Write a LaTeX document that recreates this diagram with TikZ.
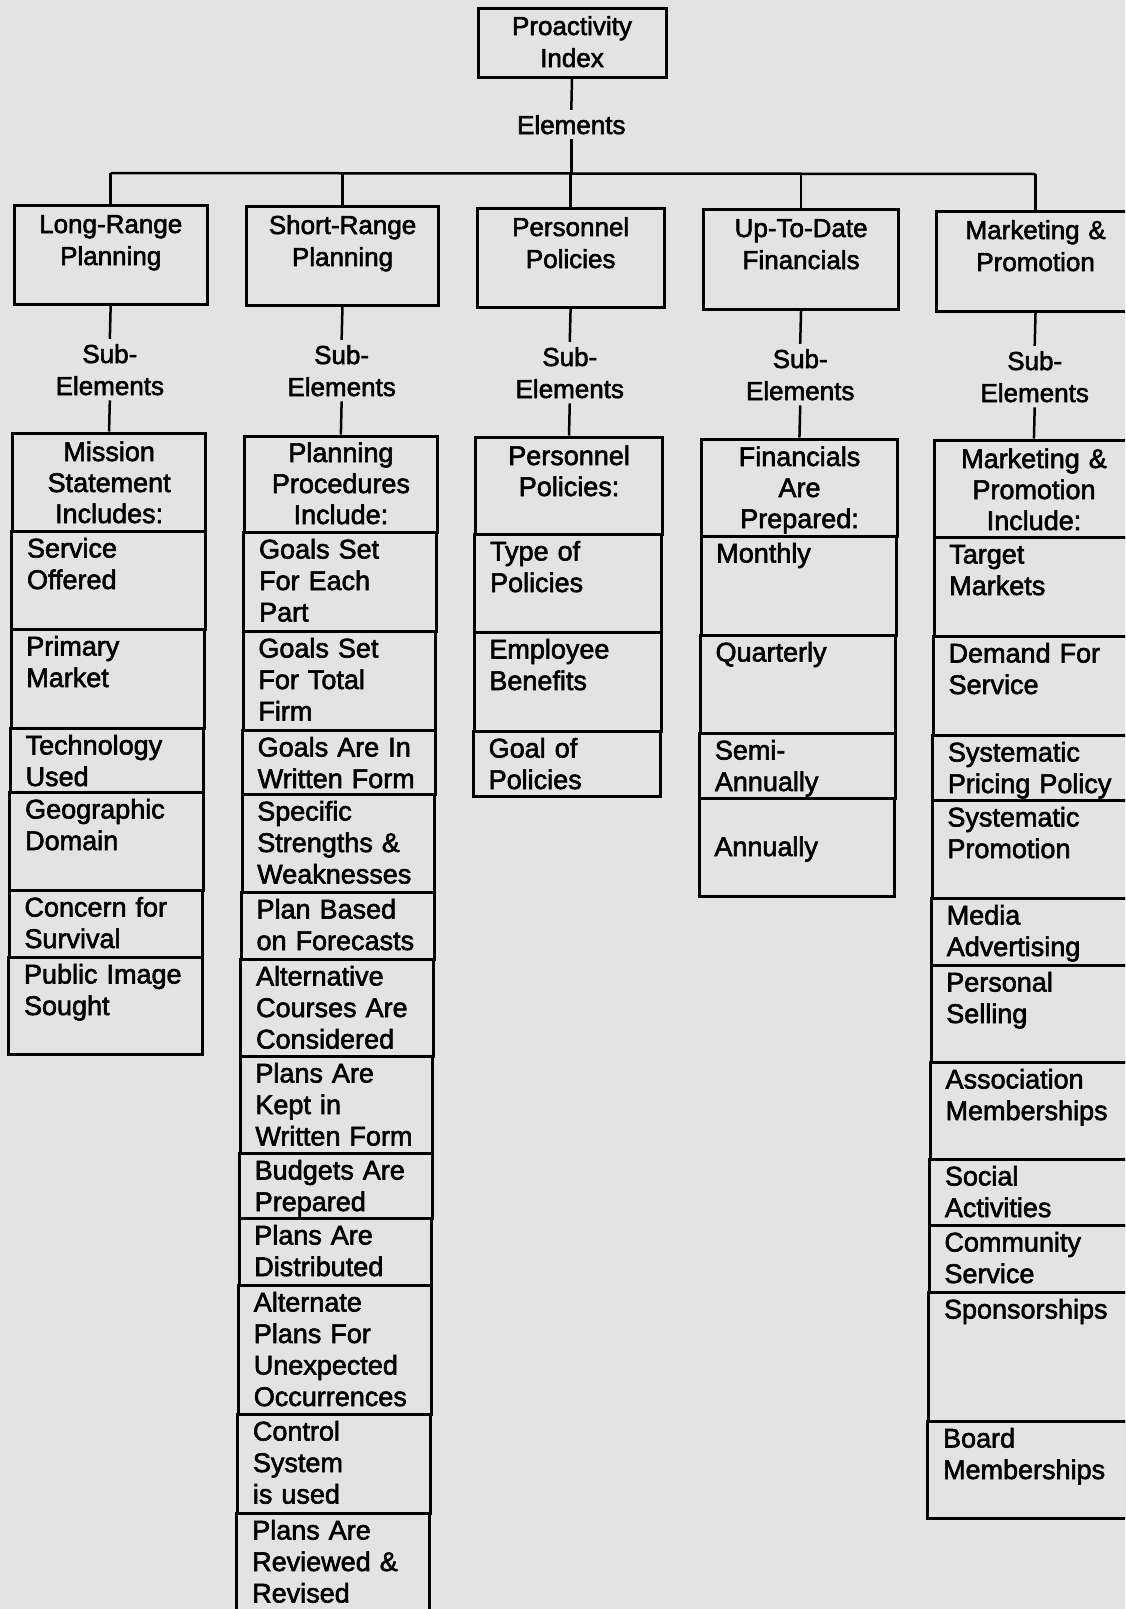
\documentclass[tikz,border=0pt]{standalone}
\usepackage{fontspec}
\setmainfont{Liberation Sans}[FakeBold=2.2]
\usetikzlibrary{fit}
\definecolor{paper}{gray}{0.89}
% the scan is turned a little: x drifts left by 0.007 px per px downwards
\newcommand\mycell[5]{\pgfmathsetmacro\mydx{-0.007*((#3+#5)/2-800)}%
  \node[boxst, fit={({#2+\mydx},#3) ({#4+\mydx},#5)}] (#1) {};}
\newcommand\mytxt[4]{\pgfmathsetmacro\mydx{-0.007*(#3+40-800)}%
  \node[itm, anchor=base west] (#1) at ({#2+15+\mydx},{#3+26.5}) {#4};}
\newcommand\myctr[5]{\pgfmathsetmacro\mydx{-0.007*(#4+10-800)}%
  \node[#1, anchor=base] (#2) at ({#3+\mydx},#4) {#5};}
\tikzset{
  boxst/.style={draw=black, line width=3pt, inner sep=0pt},
  conn/.style={draw=black, line width=2.5pt},
  big/.style={font=\fontsize{26}{32}\selectfont, inner sep=0pt, text width=200pt, align=center},
  lbl/.style={big, inner sep=5pt},
  itm/.style={font=\fontsize{27}{31.5}\selectfont, inner sep=0pt, text width=190pt, align=left},
  hdr/.style={font=\fontsize{27}{31}\selectfont, inner sep=0pt, text width=200pt, align=center},
}
\begin{document}
\begin{tikzpicture}[x=1pt,y=-1pt]
\useasboundingbox (0,0) rectangle (1125,1609);
\clip (0,0) rectangle (1125,1609);
\fill[paper] (0,0) rectangle (1125,1609);

% ---- level 0
\mycell{root}{472.7}{8}{660.7}{77}
\myctr{big}{rootT}{566.7}{35}{Proactivity\\Index}
\myctr{lbl}{elem}{566.7}{134}{Elements}

% ---- level 1
\mycell{lr}{10.2}{205}{203.5}{304}
\mycell{sr}{242.3}{206}{435}{305}
\mycell{pp}{473.3}{208}{660.3}{307}
\mycell{ud}{699.5}{209}{895}{309}
\mycell{mp}{932.5}{211}{1131}{311}
\coordinate (barM) at (elem.south |- 0,173);
\coordinate (barL) at (lr.north |- 0,173);
\coordinate (barR) at (mp.north |- 0,174);
\myctr{big}{lrT}{106.85}{233}{Long-Range\\Planning}
\myctr{big}{srT}{338.65}{234}{Short-Range\\Planning}
\myctr{big}{ppT}{566.8}{236}{Personnel\\Policies}
\myctr{big}{udT}{797.25}{237}{Up-To-Date\\Financials}
\myctr{big}{mpT}{1031.75}{239}{Marketing \&\\Promotion}

\draw[conn] (root.south) -- (elem.north);
\draw[conn] (elem.south) -- (barM);
\draw[conn] (barL) -- (barR);
\draw[conn] (lr.north |- barL) -- (lr.north);
\draw[conn] (sr.north |- barL) -- (sr.north);
\draw[conn] (pp.north |- barL) -- (pp.north);
\draw[conn] (ud.north |- barL) -- (ud.north);
\draw[conn] (barR) -- (mp.north);

% ---- sub-element labels
\myctr{lbl}{lrS}{106.85}{363}{Sub-\\Elements}
\myctr{lbl}{srS}{338.65}{364}{Sub-\\Elements}
\myctr{lbl}{ppS}{566.8}{366}{Sub-\\Elements}
\myctr{lbl}{udS}{797.25}{368}{Sub-\\Elements}
\myctr{lbl}{mpS}{1031.75}{370}{Sub-\\Elements}

% ---- column 1
\mycell{a0}{10.2}{433}{203.5}{531}
\mycell{a1}{10.2}{531}{203.5}{629}
\mycell{a2}{10.2}{629}{203.5}{728}
\mycell{a3}{10.2}{728}{203.5}{792}
\mycell{a4}{10.2}{792}{203.5}{890}
\mycell{a5}{10.2}{890}{203.5}{957}
\mycell{a6}{10.2}{957}{203.5}{1054}
\myctr{hdr}{a0t}{106.85}{461}{Mission\\Statement\\Includes:}
\mytxt{a1t}{10.2}{531}{Service\\Offered}
\mytxt{a2t}{10.2}{629}{Primary\\Market}
\mytxt{a3t}{10.2}{728}{Technology\\Used}
\mytxt{a4t}{10.2}{792}{Geographic\\Domain}
\mytxt{a5t}{10.2}{890}{Concern for\\Survival}
\mytxt{a6t}{10.2}{957}{Public Image\\Sought}

% ---- column 2
\mycell{b0}{242.3}{436}{435}{532}
\mycell{b1}{242.3}{532}{435}{631}
\mycell{b2}{242.3}{631}{435}{730}
\mycell{b3}{242.3}{730}{435}{794}
\mycell{b4}{242.3}{794}{435}{892}
\mycell{b5}{242.3}{892}{435}{959}
\mycell{b6}{242.3}{959}{435}{1056}
\mycell{b7}{242.3}{1056}{435}{1153}
\mycell{b8}{242.3}{1153}{435}{1218}
\mycell{b9}{242.3}{1218}{435}{1285}
\mycell{b10}{242.3}{1285}{435}{1414}
\mycell{b11}{242.3}{1414}{435}{1513}
\mycell{b12}{242.3}{1513}{435}{1660}
\myctr{hdr}{b0t}{338.65}{462}{Planning\\Procedures\\Include:}
\mytxt{b1t}{242.3}{532}{Goals Set\\For Each\\Part}
\mytxt{b2t}{242.3}{631}{Goals Set\\For Total\\Firm}
\mytxt{b3t}{242.3}{730}{Goals Are In\\Written Form}
\mytxt{b4t}{242.3}{794}{Specific\\Strengths \&\\Weaknesses}
\mytxt{b5t}{242.3}{892}{Plan Based\\on Forecasts}
\mytxt{b6t}{242.3}{959}{Alternative\\Courses Are\\Considered}
\mytxt{b7t}{242.3}{1056}{Plans Are\\Kept in\\Written Form}
\mytxt{b8t}{242.3}{1153}{Budgets Are\\Prepared}
\mytxt{b9t}{242.3}{1218}{Plans Are\\Distributed}
\mytxt{b10t}{242.3}{1285}{Alternate\\Plans For\\Unexpected\\Occurrences}
\mytxt{b11t}{242.3}{1414}{Control\\System\\is used}
\mytxt{b12t}{242.3}{1513}{Plans Are\\Reviewed \&\\Revised}

% ---- column 3
\mycell{c0}{473.3}{437}{660.3}{534}
\mycell{c1}{473.3}{534}{660.3}{632}
\mycell{c2}{473.3}{632}{660.3}{731}
\mycell{c3}{473.3}{731}{660.3}{796}
\myctr{hdr}{c0t}{566.8}{465}{Personnel\\Policies:}
\mytxt{c1t}{473.3}{534}{Type of\\Policies}
\mytxt{c2t}{473.3}{632}{Employee\\Benefits}
\mytxt{c3t}{473.3}{731}{Goal of\\Policies}

% ---- column 4
\mycell{d0}{699.5}{439}{895}{536}
\mycell{d1}{699.5}{536}{895}{635}
\mycell{d2}{699.5}{635}{895}{733}
\mycell{d3}{699.5}{733}{895}{798}
\mycell{d4}{699.5}{798}{895}{896}
\myctr{hdr}{d0t}{797.25}{466}{Financials\\Are\\Prepared:}
\mytxt{d1t}{699.5}{536}{Monthly}
\mytxt{d2t}{699.5}{635}{Quarterly}
\mytxt{d3t}{699.5}{733}{Semi-\\Annually}
\node[itm, anchor=base west] (d4t) at (714.2,856) {Annually};

% ---- column 5
\mycell{e0}{932.5}{440}{1131}{537}
\mycell{e1}{932.5}{537}{1131}{636}
\mycell{e2}{932.5}{636}{1131}{735}
\mycell{e3}{932.5}{735}{1131}{800}
\mycell{e4}{932.5}{800}{1131}{898}
\mycell{e5}{932.5}{898}{1131}{965}
\mycell{e6}{932.5}{965}{1131}{1062}
\mycell{e7}{932.5}{1062}{1131}{1159}
\mycell{e8}{932.5}{1159}{1131}{1225}
\mycell{e9}{932.5}{1225}{1131}{1292}
\mycell{e10}{932.5}{1292}{1131}{1421}
\mycell{e11}{932.5}{1421}{1131}{1518}
\myctr{hdr}{e0t}{1031.75}{468}{Marketing \&\\Promotion\\Include:}
\mytxt{e1t}{932.5}{537}{Target\\Markets}
\mytxt{e2t}{932.5}{636}{Demand For\\Service}
\mytxt{e3t}{932.5}{735}{Systematic\\Pricing Policy}
\mytxt{e4t}{932.5}{800}{Systematic\\Promotion}
\mytxt{e5t}{932.5}{898}{Media\\Advertising}
\mytxt{e6t}{932.5}{965}{Personal\\Selling}
\mytxt{e7t}{932.5}{1062}{Association\\Memberships}
\mytxt{e8t}{932.5}{1159}{Social\\Activities}
\mytxt{e9t}{932.5}{1225}{Community\\Service}
\mytxt{e10t}{932.5}{1292}{Sponsorships}
\mytxt{e11t}{932.5}{1421}{Board\\Memberships}

% ---- connectors to columns
\draw[conn] (lr.south) -- (lrS.north);
\draw[conn] (lrS.south) -- (a0.north);
\draw[conn] (sr.south) -- (srS.north);
\draw[conn] (srS.south) -- (b0.north);
\draw[conn] (pp.south) -- (ppS.north);
\draw[conn] (ppS.south) -- (c0.north);
\draw[conn] (ud.south) -- (udS.north);
\draw[conn] (udS.south) -- (d0.north);
\draw[conn] (mp.south) -- (mpS.north);
\draw[conn] (mpS.south) -- (e0.north);
\end{tikzpicture}
\end{document}
